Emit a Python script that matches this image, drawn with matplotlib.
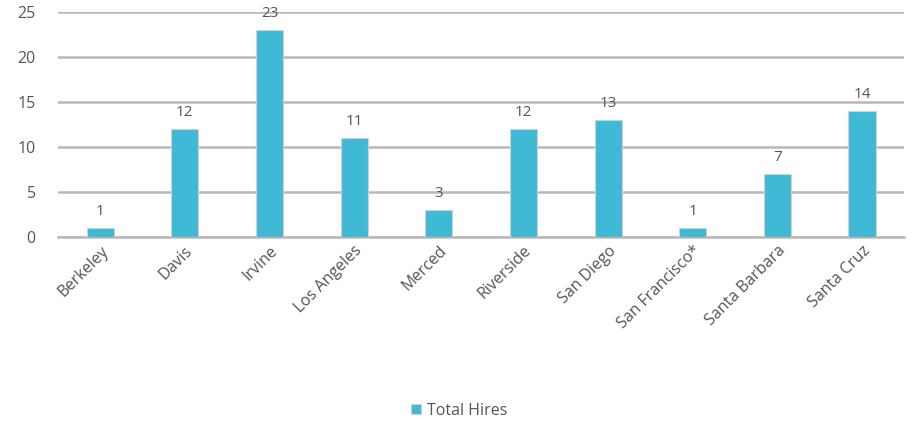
import matplotlib
matplotlib.use("Agg")
import matplotlib.pyplot as plt

plt.rcParams['font.family'] = ['Open Sans', 'DejaVu Sans']

campuses = ["Berkeley", "Davis", "Irvine", "Los Angeles", "Merced", "Riverside",
            "San Diego", "San Francisco*", "Santa Barbara", "Santa Cruz"]
total_hires = [1, 12, 23, 11, 3, 12, 13, 1, 7, 14]
yticks = [0, 5, 10, 15, 20, 25]

bar_color = "#3fb9d5"
text_color = "#555555"
grid_color = "#b8b8b8"

fig = plt.figure(figsize=(9.19, 4.25), dpi=100)
ax = fig.add_axes([0.063, 0.442, 0.921, 0.53])

x = list(range(len(campuses)))
bars = ax.bar(x, total_hires, width=0.32, color=bar_color, edgecolor="#d0d0d0",
              linewidth=0.8, label="Total Hires", zorder=3)

for xi, v in zip(x, total_hires):
    ax.text(xi, v + 1.0, str(v), ha="center", va="bottom", fontsize=11,
            color=text_color)

ax.set_xlim(-0.5, len(campuses) - 0.5)
ax.set_ylim(0, 25)
ax.set_yticks(yticks)
ax.yaxis.grid(True, color=grid_color, linewidth=1.8, zorder=0)
ax.set_axisbelow(True)
for s in ["top", "right", "left"]:
    ax.spines[s].set_visible(False)
ax.spines["bottom"].set_color(grid_color)
ax.spines["bottom"].set_linewidth(1.8)
ax.tick_params(axis="both", length=0, colors=text_color, labelsize=11.5)
ax.tick_params(axis="y", pad=16)
ax.tick_params(axis="x", pad=4)
ax.set_xticks(x)
ax.set_xticklabels(campuses, rotation=45, ha="right", rotation_mode="anchor")

fig.legend(handles=[bars], labels=["Total Hires"], loc="center",
           bbox_to_anchor=(0.5, 0.033), frameon=False, fontsize=11.5,
           handlelength=0.6, handleheight=0.6, handletextpad=0.4,
           labelcolor=text_color)

fig.savefig("out.png", dpi=100)
